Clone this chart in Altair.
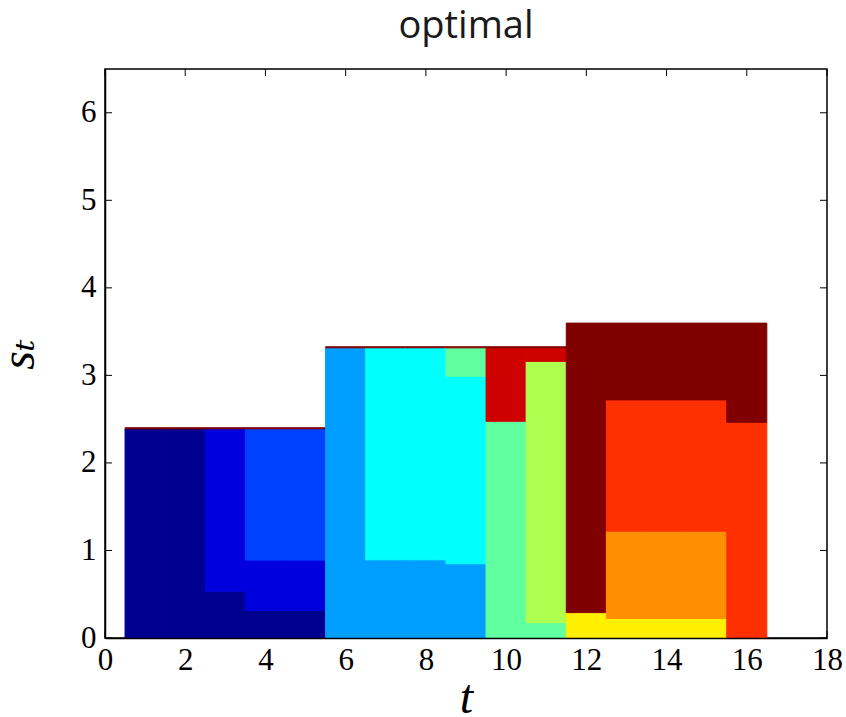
import altair as alt
import pandas as pd

# ---- data ----
job_names = ["J1", "J2", "J3", "J4", "J5", "J6", "J7", "J8", "J9", "J10", "J11", "J12"]
job_colors = ["#00008f", "#0000df", "#0040ff", "#009fff", "#00ffff", "#60ff9f",
              "#afff50", "#ffef00", "#ff8f00", "#ff3000", "#cf0000", "#800000"]

# stacked segments per time slot t (bottom to top)
seg_t = [1, 1,
         2, 2,
         3, 3, 3,
         4, 4, 4, 4,
         5, 5, 5, 5,
         6, 6,
         7, 7, 7,
         8, 8, 8,
         9, 9, 9, 9,
         10, 10, 10,
         11, 11, 11, 11,
         12, 12,
         13, 13, 13, 13,
         14, 14, 14, 14,
         15, 15, 15, 15,
         16, 16]
seg_job = ["J1", "J12",
           "J1", "J12",
           "J1", "J2", "J12",
           "J1", "J2", "J3", "J12",
           "J1", "J2", "J3", "J12",
           "J4", "J12",
           "J4", "J5", "J12",
           "J4", "J5", "J12",
           "J4", "J5", "J6", "J12",
           "J6", "J11", "J12",
           "J6", "J7", "J11", "J12",
           "J8", "J12",
           "J8", "J9", "J10", "J12",
           "J8", "J9", "J10", "J12",
           "J8", "J9", "J10", "J12",
           "J10", "J12"]
seg_h = [2.39, 0.012,
         2.39, 0.012,
         0.535, 1.855, 0.012,
         0.315, 0.575, 1.50, 0.012,
         0.315, 0.575, 1.50, 0.012,
         3.315, 0.012,
         0.893, 2.422, 0.012,
         0.893, 2.422, 0.012,
         0.848, 2.142, 0.325, 0.012,
         2.475, 0.84, 0.012,
         0.175, 2.985, 0.155, 0.012,
         0.29, 3.307,
         0.224, 0.996, 1.50, 0.877,
         0.224, 0.996, 1.50, 0.877,
         0.224, 0.996, 1.50, 0.877,
         2.464, 1.133]

x_ticks = [0, 2, 4, 6, 8, 10, 12, 14, 16, 18]
y_ticks = [0, 1, 2, 3, 4, 5, 6]

df = pd.DataFrame({"t": seg_t, "job": seg_job, "h": seg_h})
df["y1"] = df.groupby("t")["h"].cumsum()
df["y0"] = df["y1"] - df["h"]

W, H = 722, 569
xscale = alt.Scale(domain=[0, 18], nice=False, zero=False)
yscale = alt.Scale(domain=[0, 6.5], nice=False, zero=False)
cscale = alt.Scale(domain=job_names, range=job_colors)

SERIF = "Liberation Serif, Times New Roman, DejaVu Serif, serif"

xaxis = alt.Axis(values=x_ticks, ticks=False, grid=False, domain=True,
                 domainColor="black", domainWidth=1.5, labelFont=SERIF,
                 labelFontSize=31, labelColor="black", labelPadding=7,
                 labelFlush=False, title="t", titleFont=SERIF,
                 titleFontStyle="italic", titleFontWeight="normal",
                 titleFontSize=48, titleColor="black",
                 titleBaseline="alphabetic", titleX=361, titleY=74,
                 titleAlign="center", zindex=1)
yaxis = alt.Axis(values=y_ticks, ticks=False, grid=False, domain=True,
                 domainColor="black", domainWidth=1.5, labelFont=SERIF,
                 labelFontSize=31, labelColor="black", labelPadding=9,
                 labelFlush=False, title="sₜ", titleFont=SERIF,
                 titleFontStyle="italic", titleFontWeight="normal",
                 titleFontSize=48, titleColor="black", titleAngle=270,
                 titleBaseline="alphabetic", titleX=-72, titleY=285,
                 titleAlign="center", zindex=1)

xt = pd.DataFrame({"v": x_ticks})
yt = pd.DataFrame({"v": y_ticks})
TL = 7

bottom_ticks = alt.Chart(xt).mark_rule(color="black", strokeWidth=1).encode(
    x=alt.X("v:Q", scale=xscale, axis=xaxis), y=alt.value(H), y2=alt.value(H - TL))
top_ticks = alt.Chart(xt).mark_rule(color="black", strokeWidth=1).encode(
    x=alt.X("v:Q", scale=xscale, axis=xaxis), y=alt.value(0), y2=alt.value(TL))
left_ticks = alt.Chart(yt).mark_rule(color="black", strokeWidth=1).encode(
    y=alt.Y("v:Q", scale=yscale, axis=yaxis), x=alt.value(0), x2=alt.value(TL))
right_ticks = alt.Chart(yt).mark_rule(color="black", strokeWidth=1).encode(
    y=alt.Y("v:Q", scale=yscale, axis=yaxis), x=alt.value(W), x2=alt.value(W - TL))

rects = alt.Chart(df).transform_calculate(
    x0="datum.t - 0.5", x1="datum.t + 0.5"
).mark_rect(strokeWidth=1).encode(
    x=alt.X("x0:Q", scale=xscale, axis=xaxis),
    x2="x1:Q",
    y=alt.Y("y0:Q", scale=yscale, axis=yaxis),
    y2="y1:Q",
    color=alt.Color("job:N", scale=cscale, legend=None),
    stroke=alt.Stroke("job:N", scale=cscale, legend=None),
)

chart = alt.layer(bottom_ticks, top_ticks, left_ticks, right_ticks, rects).properties(
    width=W, height=H,
    autosize="none",
    padding={"left": 105, "top": 69, "right": 19, "bottom": 79},
    title=alt.TitleParams("optimal", font="Open Sans", fontSize=38,
                          fontWeight="normal", color="#1a1a1a", anchor="middle",
                          baseline="alphabetic", offset=27, dy=34, frame="group"),
).configure_view(stroke="black", strokeWidth=1.5)

chart.save("out.html", embed_options={"renderer": "svg", "actions": False})
